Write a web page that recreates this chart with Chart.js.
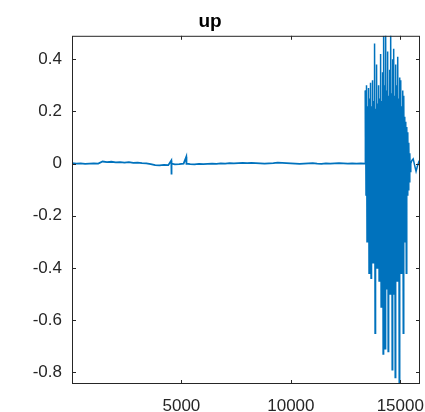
<!DOCTYPE html>
<html>
<head>
<meta charset="utf-8">
<script src="https://cdn.jsdelivr.net/npm/chart.js@4/dist/chart.umd.min.js"></script>
<style>
  html, body { margin: 0; padding: 0; background: #fff; }
  #wrap { width: 425px; height: 412px; }
</style>
</head>
<body>
<div id="wrap"><canvas id="sig" width="425" height="412"></canvas></div>
<script>
// ----- data -----
const titleText = 'up';
const xTicks = [5000, 10000, 15000];
const yTicks = [-0.8, -0.6, -0.4, -0.2, 0, 0.2, 0.4];
const xRange = [1, 15900];
const yRange = [-0.845, 0.49];

// quiet part of the recording (sample index / amplitude)
const quietX = [1, 200, 400, 600, 800, 1000, 1200, 1400, 1600, 1800, 2000, 2200, 2400, 2600, 2800,
  3000, 3200, 3400, 3600, 3800, 4000, 4200, 4400, 4538, 4545, 4552, 4700, 4900, 5100, 5222, 5228,
  5234, 5400, 5600, 5800, 6000, 6200, 6400, 6600, 6800, 7000, 7200, 7400, 7600, 7800, 8000, 8200,
  8400, 8600, 8800, 9000, 9200, 9400, 9600, 9800, 10000, 10200, 10400, 10600, 10800, 11000, 11200,
  11400, 11600, 11800, 12000, 12200, 12400, 12600, 12800, 13000, 13200, 13400];
const quietY = [0.002, 0.000, 0.001, -0.001, 0.000, 0.001, 0.000, 0.008, 0.006, 0.007, 0.005, 0.006, 0.004, 0.006, 0.003,
  0.004, 0.002, 0.001, -0.002, -0.006, -0.007, -0.005, -0.006, 0.012, -0.042, 0.000, -0.003, -0.002, 0.000, 0.026, -0.004,
  0.000, -0.002, -0.003, -0.001, -0.002, -0.001, 0.000, -0.001, 0.001, 0.000, 0.002, 0.001, 0.002, 0.003, 0.002, 0.003,
  0.002, 0.001, 0.000, 0.001, 0.002, 0.004, 0.003, 0.002, 0.001, 0.000, -0.001, 0.000, 0.001, 0.002, 0.000,
  -0.001, 0.001, 0.000, 0.001, 0.002, 0.001, 0.000, 0.001, 0.000, 0.001, 0.000];

// loud burst, one value every burstStep samples from burstStart
const burstStart = 13410;
const burstStep = 23;
const burstY = [
  0.28, -0.12, 0.30, -0.30, 0.22, -0.14, 0.29, -0.42, 0.25, -0.15,
  0.31, -0.44, 0.22, -0.16, 0.32, -0.38, 0.24, -0.15, 0.46, -0.65,
  0.21, -0.17, 0.38, -0.40, 0.23, -0.18, 0.30, -0.45, 0.25, -0.19,
  0.42, -0.55, 0.24, -0.20, 0.35, -0.73, 0.49, -0.22, 0.30, -0.71,
  0.52, -0.21, 0.28, -0.48, 0.43, -0.72, 0.26, -0.22, 0.36, -0.50,
  0.51, -0.21, 0.27, -0.79, 0.40, -0.22, 0.44, -0.50, 0.26, -0.82,
  0.38, -0.21, 0.30, -0.45, 0.41, -0.20, 0.25, -0.88, 0.33, -0.19,
  0.32, -0.42, 0.22, -0.17, 0.28, -0.65, 0.26, -0.15, 0.18, -0.30,
  0.16, -0.42, 0.14, -0.12, 0.12, -0.10, 0.08, -0.07, 0.04, -0.03
];

// settling after the burst
const tailX = [15480, 15530, 15590, 15650, 15720, 15780, 15850, 15900];
const tailY = [0.000, 0.012, 0.018, -0.005, -0.030, -0.010, 0.008, 0.004];

// ----- build point lists -----
const quietPts = quietX.map((x, i) => ({ x: x, y: quietY[i] }));
const burstPts = burstY.map((y, i) => ({ x: burstStart + i * burstStep, y: y }));
const tailPts = tailX.map((x, i) => ({ x: x, y: tailY[i] }));

const lineBlue = '#0072BD';
const axisGrey = '#262626';

// MATLAB style box with inward ticks on all four sides
const boxTicks = {
  id: 'boxTicks',
  afterDraw(chart) {
    const { ctx, chartArea: a, scales } = chart;
    const len = 4;
    ctx.save();
    ctx.strokeStyle = axisGrey;
    ctx.lineWidth = 1;
    ctx.strokeRect(a.left + 0.5, a.top + 0.5, a.right - a.left - 1, a.bottom - a.top - 1);
    ctx.beginPath();
    yTicks.forEach(v => {
      const py = Math.round(scales.y.getPixelForValue(v)) + 0.5;
      ctx.moveTo(a.left, py); ctx.lineTo(a.left + len, py);
      ctx.moveTo(a.right, py); ctx.lineTo(a.right - len, py);
    });
    xTicks.forEach(v => {
      const px = Math.round(scales.x.getPixelForValue(v)) + 0.5;
      ctx.moveTo(px, a.bottom); ctx.lineTo(px, a.bottom - len);
      ctx.moveTo(px, a.top); ctx.lineTo(px, a.top + len);
    });
    ctx.stroke();
    ctx.restore();
  }
};

new Chart(document.getElementById('sig'), {
  type: 'line',
  data: {
    datasets: [
      {
        data: quietPts.concat([burstPts[0]]),
        borderColor: lineBlue,
        borderWidth: 1.8,
        pointRadius: 0,
        tension: 0
      },
      {
        data: burstPts.concat(tailPts),
        borderColor: lineBlue,
        borderWidth: 1.5,
        pointRadius: 0,
        tension: 0
      }
    ]
  },
  options: {
    responsive: false,
    animation: false,
    layout: { padding: { left: 0, right: 5, top: 0, bottom: 0 } },
    plugins: {
      legend: { display: false },
      tooltip: { enabled: false },
      title: {
        display: true,
        text: titleText,
        color: '#000',
        font: { family: 'Liberation Sans', size: 19, weight: 'bold' },
        padding: { top: 10, bottom: 3 }
      }
    },
    scales: {
      x: {
        type: 'linear',
        min: xRange[0],
        max: xRange[1],
        afterFit(s) { s.height = 28; s.paddingLeft = 0; s.paddingRight = 0; },
        afterBuildTicks(s) { s.ticks = xTicks.map(v => ({ value: v })); },
        grid: { display: false, drawTicks: false },
        border: { display: false },
        ticks: {
          padding: 12,
          color: axisGrey,
          maxRotation: 0,
          font: { family: 'Liberation Sans', size: 17 },
          callback: v => String(v)
        }
      },
      y: {
        min: yRange[0],
        max: yRange[1],
        afterFit(s) { s.width = 72; },
        afterBuildTicks(s) { s.ticks = yTicks.map(v => ({ value: v })); },
        grid: { display: false, drawTicks: false },
        border: { display: false },
        ticks: {
          padding: 10,
          color: axisGrey,
          font: { family: 'Liberation Sans', size: 17 },
          callback: v => String(Number(v.toFixed(1)))
        }
      }
    }
  },
  plugins: [boxTicks]
});
</script>
</body>
</html>
